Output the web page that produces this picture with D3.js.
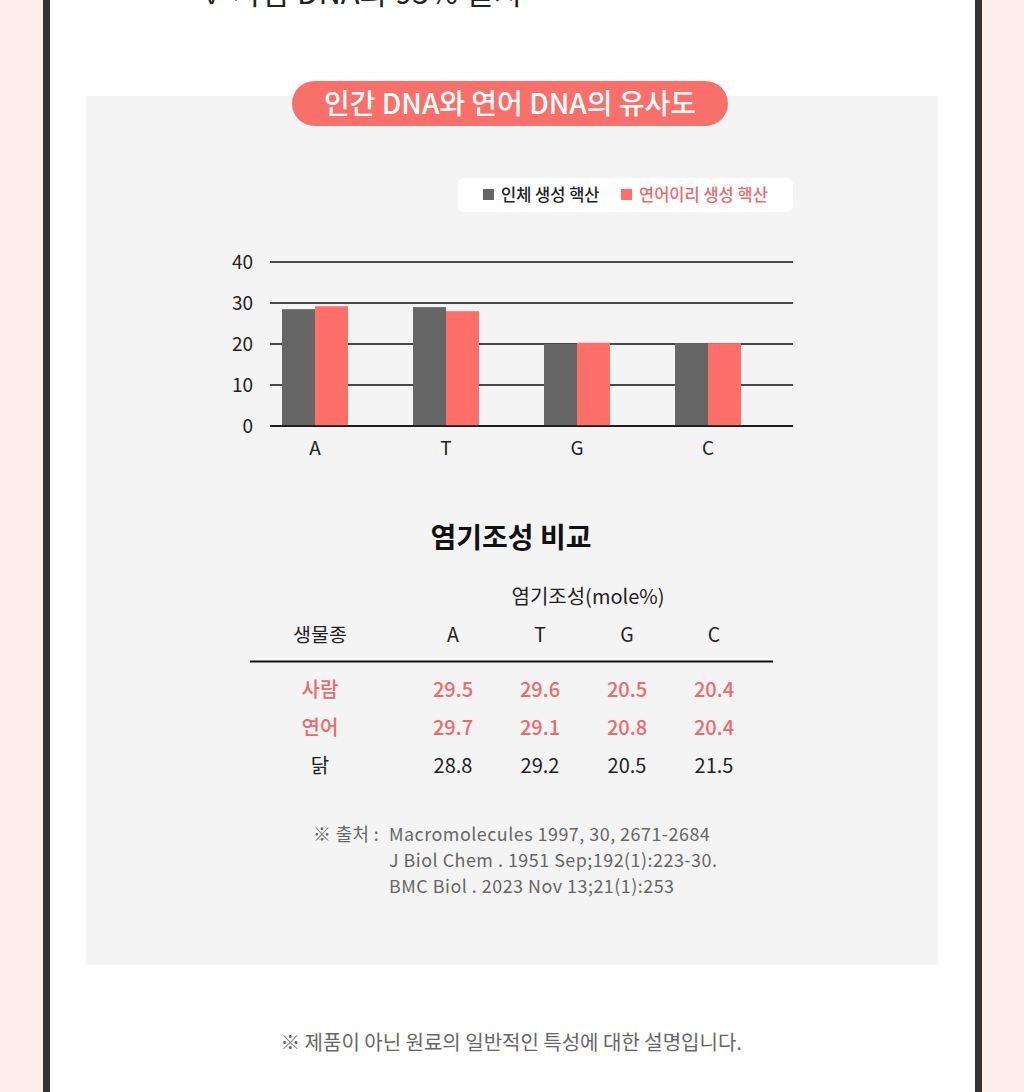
<!DOCTYPE html>
<html><head><meta charset="utf-8">
<script src="https://cdn.jsdelivr.net/npm/d3@7"></script>
<style>
html,body{margin:0;padding:0;background:#fdeeea;}
svg{display:block;font-family:"Noto Sans CJK KR","Noto Sans",sans-serif;}
</style></head>
<body>
<svg id="c" width="1024" height="1092"></svg>
<script>
// ---- data ----
const bases = ["A", "T", "G", "C"];
const seriesNames = ["인체 생성 핵산", "연어이리 생성 핵산"];
const humanValues = [28.5, 29.0, 20.0, 20.2];
const salmonValues = [29.2, 28.0, 20.3, 20.2];
const yTicks = [0, 10, 20, 30, 40];
const tableSpecies = ["사람", "연어", "닭"];
const tableRows = [
  ["29.5", "29.6", "20.5", "20.4"],
  ["29.7", "29.1", "20.8", "20.4"],
  ["28.8", "29.2", "20.5", "21.5"]
];
const sources = [
  "Macromolecules 1997, 30, 2671-2684",
  "J Biol Chem . 1951 Sep;192(1):223-30.",
  "BMC Biol . 2023 Nov 13;21(1):253"
];

const GRAY = "#666666", PINK = "#ff6f6a", PINKTXT = "#ee6a6a";
const svg = d3.select("#c");

// frame
svg.append("rect").attr("x",0).attr("y",0).attr("width",1024).attr("height",1092).attr("fill","#fdeeea");
svg.append("rect").attr("x",43).attr("y",-5).attr("width",939).attr("height",1110).attr("fill","#333");
svg.append("rect").attr("x",50).attr("y",-5).attr("width",925).attr("height",1110).attr("fill","#ffffff");
// cut-off top text (cut off in the reference as well)
svg.append("text").attr("x",205).attr("y",4).attr("font-size",31).attr("fill","#222")
  .text("✓  사람 DNA와 95% 일치");
// gray panel
svg.append("rect").attr("x",86).attr("y",96).attr("width",852).attr("height",869).attr("fill","#f4f4f4");

// title pill
svg.append("rect").attr("x",292).attr("y",81).attr("width",436).attr("height",45).attr("rx",22.5).attr("fill","#f96f6a");
svg.append("text").attr("x",510).attr("y",114).attr("text-anchor","middle").attr("font-size",28)
  .attr("font-weight",500).attr("fill","#fff").text("인간 DNA와 연어 DNA의 유사도");

// legend
svg.append("rect").attr("x",458).attr("y",178).attr("width",335).attr("height",34).attr("rx",6).attr("fill","#fff");
const leg = [{x:483, c:GRAY, t:"#222"},{x:621, c:PINK, t:PINKTXT}];
leg.forEach((l,i)=>{
  svg.append("rect").attr("x",l.x).attr("y",189).attr("width",11).attr("height",11).attr("fill",l.c);
  svg.append("text").attr("x",l.x+18).attr("y",200.5).attr("font-size",16.5).attr("font-weight",500)
    .attr("fill",l.t).text(seriesNames[i]);
});

// chart
const y = d3.scaleLinear().domain([0,40]).range([426,262]);
const x = d3.scaleBand().domain(bases).range([249.5,773.5]).paddingInner(0).paddingOuter(0);
const gridG = svg.append("g");
yTicks.forEach(t=>{
  gridG.append("line").attr("x1",270).attr("x2",793).attr("y1",y(t)).attr("y2",y(t))
    .attr("stroke","#111").attr("stroke-width",1.6);
});
const yAxis = d3.axisLeft(y).tickValues(yTicks).tickSize(0).tickPadding(0);
const ya = svg.append("g").attr("transform","translate(253,0)").call(yAxis);
ya.select(".domain").remove();
ya.selectAll("text").attr("font-size",19).attr("fill","#222").attr("font-family",'"Noto Sans CJK KR",sans-serif');

const bw = 33;
const groups = svg.append("g");
bases.forEach((b,i)=>{
  const cx = x(b) + x.bandwidth()/2;
  groups.append("rect").attr("x",cx-bw).attr("y",y(humanValues[i])).attr("width",bw)
    .attr("height",y(0)-y(humanValues[i])).attr("fill",GRAY);
  groups.append("rect").attr("x",cx).attr("y",y(salmonValues[i])).attr("width",bw)
    .attr("height",y(0)-y(salmonValues[i])).attr("fill",PINK);
});
svg.append("line").attr("x1",270).attr("x2",793).attr("y1",y(0)).attr("y2",y(0)).attr("stroke","#111").attr("stroke-width",1.6);
const xAxis = d3.axisBottom(x).tickSize(0).tickPadding(0);
const xa = svg.append("g").attr("transform","translate(0,441)").call(xAxis);
xa.select(".domain").remove();
xa.selectAll("text").attr("font-size",19).attr("fill","#222").attr("dy","0.71em").attr("font-family",'"Noto Sans CJK KR",sans-serif');

// table title
svg.append("text").attr("x",511).attr("y",548).attr("text-anchor","middle").attr("font-size",28)
  .attr("font-weight",700).attr("fill","#111").text("염기조성 비교");
svg.append("text").attr("x",588).attr("y",604).attr("text-anchor","middle").attr("font-size",20)
  .attr("fill","#222").text("염기조성(mole%)");
const colX = [453, 540, 627, 714];
svg.append("text").attr("x",320).attr("y",642).attr("text-anchor","middle").attr("font-size",19.5).attr("fill","#222").text("생물종");
bases.forEach((b,i)=>{
  svg.append("text").attr("x",colX[i]).attr("y",642).attr("text-anchor","middle").attr("font-size",19.5).attr("fill","#222").text(b);
});
svg.append("line").attr("x1",250).attr("x2",773).attr("y1",661.5).attr("y2",661.5).attr("stroke","#111").attr("stroke-width",2);
const rowY = [697, 735, 773];
tableSpecies.forEach((s,r)=>{
  const col = r<2 ? PINKTXT : "#222";
  const fw = r<2 ? 500 : 400;
  svg.append("text").attr("x",320).attr("y",rowY[r]).attr("text-anchor","middle").attr("font-size",20)
    .attr("font-weight",fw).attr("fill",col).text(s);
  tableRows[r].forEach((v,i)=>{
    svg.append("text").attr("x",colX[i]).attr("y",rowY[r]).attr("text-anchor","middle").attr("font-size",20)
      .attr("font-weight",fw).attr("fill",col).text(v);
  });
});

// sources
svg.append("text").attr("x",313).attr("y",841).attr("font-size",17.9).attr("letter-spacing",0.4).attr("fill","#666").text("※ 출처 :");
sources.forEach((s,i)=>{
  svg.append("text").attr("x",389).attr("y",841+i*26).attr("font-size",17.9).attr("letter-spacing",0.5)
    .attr("fill","#666").text(s);
});

// bottom note
svg.append("text").attr("x",511).attr("y",1050).attr("text-anchor","middle").attr("font-size",20)
  .attr("fill","#666").text("※ 제품이 아닌 원료의 일반적인 특성에 대한 설명입니다.");
</script>
</body></html>
